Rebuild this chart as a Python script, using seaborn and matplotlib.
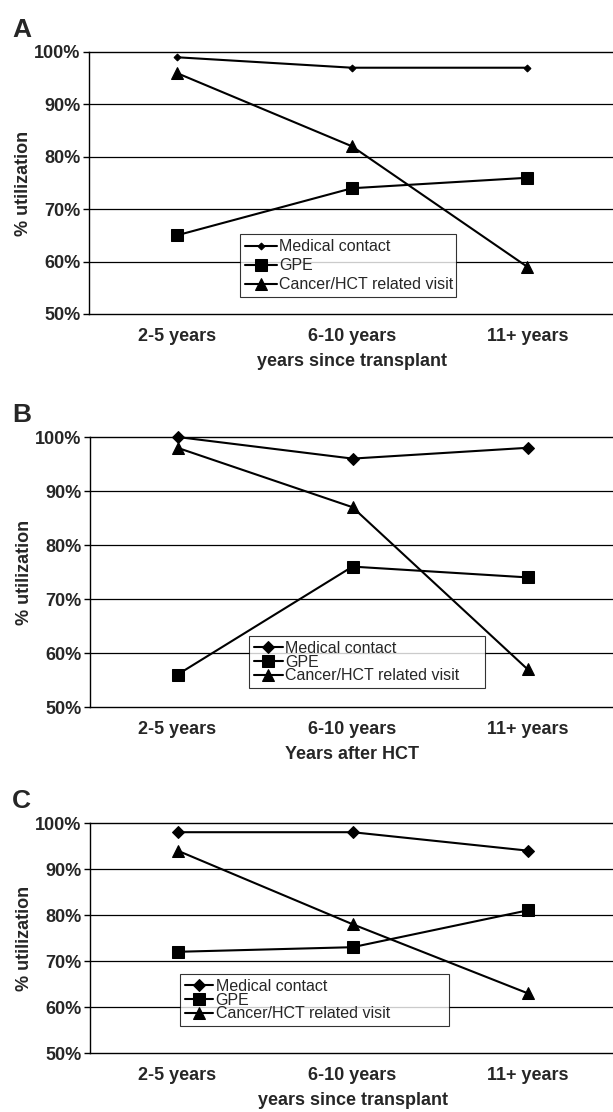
import matplotlib
matplotlib.use("Agg")
import matplotlib.pyplot as plt
import seaborn as sns
import pandas as pd
from matplotlib.ticker import PercentFormatter, FixedLocator

sns.set_style("white")
plt.rcParams['font.family'] = ['Liberation Sans', 'DejaVu Sans']

categories = ["2-5 years", "6-10 years", "11+ years"]
series_names = ["Medical contact", "GPE", "Cancer/HCT related visit"]

a_medical = [99, 97, 97]
a_gpe = [65, 74, 76]
a_cancer = [96, 82, 59]

b_medical = [100, 96, 98]
b_gpe = [56, 76, 74]
b_cancer = [98, 87, 57]

c_medical = [98, 98, 94]
c_gpe = [72, 73, 81]
c_cancer = [94, 78, 63]

panel_letters = ["A", "B", "C"]
xlabels = ["years since transplant", "Years after HCT", "years since transplant"]
yticks = [50, 60, 70, 80, 90, 100]

panels = [
    (a_medical, a_gpe, a_cancer),
    (b_medical, b_gpe, b_cancer),
    (c_medical, c_gpe, c_cancer),
]

W, H = 613, 1112
fig = plt.figure(figsize=(W / 100, H / 100), dpi=100)

# axes boxes in pixels: left, top, right, bottom
boxes = [(89, 52, 615, 314), (90, 437, 615, 707), (90, 823, 615, 1053)]
# legend: x0, y0, width (axes fraction), label spacing
legend_anchor = [(0.287, 0.065, 0.41, 0.25), (0.303, 0.07, 0.45, -0.08),
                 (0.171, 0.117, 0.512, -0.08)]
diamond_sizes = [3.5, 6.0, 6.0]

markers = ["D", "s", "^"]

for i, (vals, box, (lx, ly, lw, lsp)) in enumerate(zip(panels, boxes, legend_anchor)):
    l, t, r, b = box
    ax = fig.add_axes([l / W, 1 - b / H, (r - l) / W, (b - t) / H])
    for j, (name, v) in enumerate(zip(series_names, vals)):
        df = pd.DataFrame({"cat": categories, "val": v})
        ms = diamond_sizes[i] if j == 0 else 8
        sns.lineplot(data=df, x="cat", y="val", ax=ax, color="black",
                     marker=markers[j], markersize=ms,
                     markeredgecolor="black", linewidth=1.5, label=name,
                     sort=False, clip_on=False, zorder=3)
    ax.set_xlim(-0.5, 2.5)
    ax.set_ylim(50, 100)
    ax.yaxis.set_major_locator(FixedLocator(yticks))
    ax.yaxis.set_major_formatter(PercentFormatter(decimals=0))
    for yv in yticks[1:-1]:
        ax.axhline(yv, color="black", linewidth=0.9, zorder=0)
    for s in ["left", "bottom", "top"]:
        ax.spines[s].set_color("black")
        ax.spines[s].set_linewidth(1.0)
    ax.spines["right"].set_visible(False)
    ax.set_xticks([0, 1, 2])
    ax.set_xticklabels(categories)
    ax.set_xticks([0.5, 1.5], minor=True)
    ax.tick_params(axis="x", which="major", length=0, pad=10, labelsize=13)
    ax.tick_params(axis="x", which="minor", length=5, width=1, direction="out", color="black")
    ax.tick_params(axis="y", which="major", length=4, width=1, direction="out",
                   left=True, color="black", labelsize=13, pad=2)
    for lab in ax.get_xticklabels() + ax.get_yticklabels():
        lab.set_fontweight("bold")
    ax.set_xlabel(xlabels[i], fontsize=13, fontweight="bold", labelpad=6)
    ax.set_ylabel("% utilization", fontsize=13, fontweight="bold", labelpad=2)
    leg = ax.legend(loc="lower left", bbox_to_anchor=(lx, ly, lw, 0.2), mode="expand",
                    borderaxespad=0,
                    fontsize=11.5, frameon=True, fancybox=False, edgecolor="black",
                    handlelength=2.0 if i == 0 else 1.8, handletextpad=0.15,
                    labelspacing=lsp, borderpad=0.3)
    leg.get_frame().set_linewidth(0.8)
    fig.text(12 / W, 1 - (t - 22) / H, panel_letters[i], fontsize=19, fontweight="bold",
             ha="left", va="center")

fig.savefig("out.png", dpi=100)
